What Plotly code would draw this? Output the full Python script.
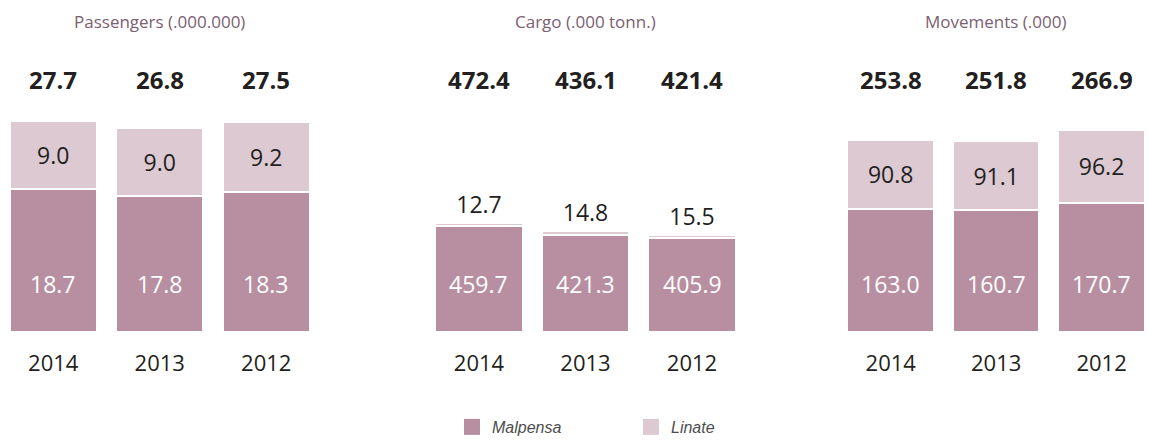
import plotly.graph_objects as go

years = ["2014", "2013", "2012"]
panels = ["Passengers (.000.000)", "Cargo (.000 tonn.)", "Movements (.000)"]
malpensa = {
    "pax": [18.7, 17.8, 18.3],
    "cargo": [459.7, 421.3, 405.9],
    "mov": [163.0, 160.7, 170.7],
}
linate = {
    "pax": [9.0, 9.0, 9.2],
    "cargo": [12.7, 14.8, 15.5],
    "mov": [90.8, 91.1, 96.2],
}
keys = ["pax", "cargo", "mov"]

C_MAL = "#b88fa1"
C_LIN = "#dcc9d2"
FONT = "Open Sans"
W, H = 1149, 444

# panel layout (px)
x_domains = [(0, 319.5), (425.75, 745.25), (838, 1149)]
x_ranges = [[-0.5, 2.5], [-0.5, 2.5], [-0.5, 2.45]]
y_tops = [43.5, 1435, 438]
base_px = 333

fig = go.Figure()
for i, k in enumerate(keys):
    xa = "x" if i == 0 else f"x{i+1}"
    ya = "y" if i == 0 else f"y{i+1}"
    fig.add_trace(go.Bar(
        x=years, y=malpensa[k], name="Malpensa", xaxis=xa, yaxis=ya,
        marker=dict(color=C_MAL, line=dict(color="white", width=2)),
        width=0.82, showlegend=False, hoverinfo="skip",
    ))
    fig.add_trace(go.Bar(
        x=years, y=linate[k], name="Linate", xaxis=xa, yaxis=ya,
        marker=dict(color=C_LIN, line=dict(color="white", width=2)),
        width=0.82, showlegend=False,
        text=[f"{v:.1f}" for v in linate[k]],
        textposition="outside" if k == "cargo" else "inside",
        insidetextanchor="middle", constraintext="none",
        textfont=dict(family=FONT, size=23, color="#231f20"),
        cliponaxis=False, hoverinfo="skip",
    ))

# legend-only entries (larger square swatches)
for name, col in [("Malpensa", C_MAL), ("Linate", C_LIN)]:
    fig.add_trace(go.Scatter(
        x=[None], y=[None], mode="markers", name=name,
        marker=dict(symbol="square", size=20, color=col),
        xaxis="x2", yaxis="y2", hoverinfo="skip",
    ))

annotations = []
for i, k in enumerate(keys):
    xa = "x" if i == 0 else f"x{i+1}"
    # panel title
    annotations.append(dict(
        x=1, y=(H - 22) / H, xref=xa, yref="paper", text=panels[i],
        showarrow=False, font=dict(family=FONT, size=17, color="#7b6070"),
        yanchor="middle",
    ))
    for j, yr in enumerate(years):
        tot = malpensa[k][j] + linate[k][j]
        annotations.append(dict(
            x=j, y=(H - 80) / H, xref=xa, yref="paper", text=f"<b>{tot:.1f}</b>",
            showarrow=False, font=dict(family=FONT, size=24, color="#231f20"),
            yanchor="middle",
        ))
        annotations.append(dict(
            x=j, y=(H - 285) / H, xref=xa, yref="paper", text=f"{malpensa[k][j]:.1f}",
            showarrow=False, font=dict(family=FONT, size=23, color="white"),
            yanchor="middle",
        ))

layout = dict(
    width=W, height=H,
    margin=dict(l=0, r=0, t=0, b=0),
    paper_bgcolor="white", plot_bgcolor="white",
    barmode="stack",
    annotations=annotations,
    showlegend=True,
    legend=dict(
        orientation="h", x=452 / W, y=(H - 428) / H, xanchor="left", yanchor="middle",
        font=dict(family="Liberation Sans", size=16, color="#4d4d4d", style="italic"),
        itemwidth=30, entrywidth=134, traceorder="normal",
    ),
)
for i in range(3):
    sx = "" if i == 0 else str(i + 1)
    d0, d1 = x_domains[i]
    layout[f"xaxis{sx}"] = dict(
        domain=[d0 / W, d1 / W], range=x_ranges[i], type="category",
        showgrid=False, zeroline=False, showline=False, ticks="",
        tickfont=dict(family=FONT, size=22, color="#231f20"),
        ticklabelstandoff=16, anchor=f"y{sx}", fixedrange=True,
    )
    layout[f"yaxis{sx}"] = dict(
        domain=[(H - base_px) / H, 1], range=[0, y_tops[i]],
        visible=False, anchor=f"x{sx}", fixedrange=True,
    )
fig.update_layout(**layout)
fig.write_html("out.html", config={"displayModeBar": False},
               post_script="document.body.style.margin='0';")
